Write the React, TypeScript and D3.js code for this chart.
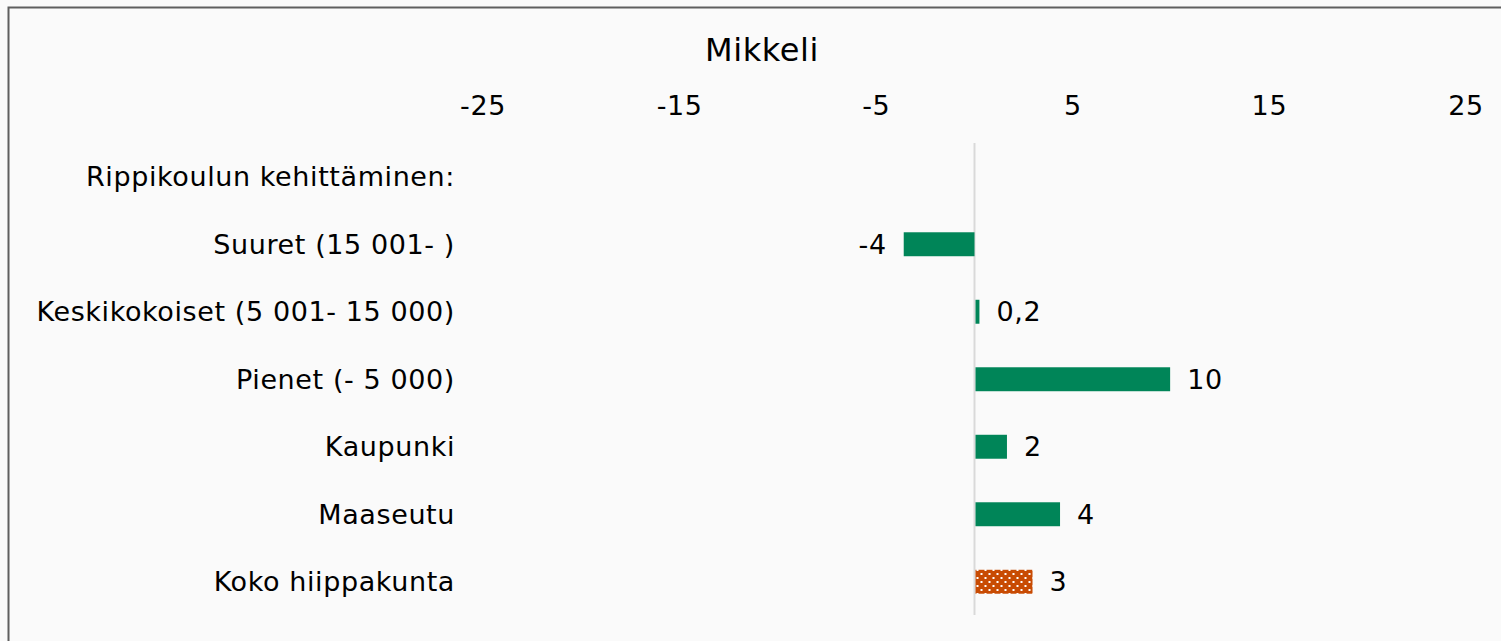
import React, { useEffect, useRef } from "react"
import * as d3 from "d3"

const title = "Mikkeli"
const categories = [
  "Rippikoulun kehittäminen:",
  "Suuret (15 001- )",
  "Keskikokoiset (5 001- 15 000)",
  "Pienet (- 5 000)",
  "Kaupunki",
  "Maaseutu",
  "Koko hiippakunta",
]
// null = header row without a bar
const values = [null, -3.6, 0.2, 9.9, 1.6, 4.3, 2.9]
const valueLabels = ["", "-4", "0,2", "10", "2", "4", "3"]
const tickValues = [-25, -15, -5, 5, 15, 25]

const W = 1501
const H = 641
const FONT = "'DejaVu Sans', Verdana, sans-serif"

export default function App() {
  const ref = useRef<SVGSVGElement>(null)

  useEffect(() => {
    document.body.style.background = "#fafafa"
    const svg = d3.select(ref.current)
    svg.selectAll("*").remove()

    const x = d3.scaleLinear().domain([-25, 25]).range([483, 1466])
    const y = d3.scaleBand<string>()
      .domain(categories)
      .range([143, 615.5])
      .paddingInner(0.645)
      .paddingOuter(0.3225)

    const label = (sel: any, size: number) =>
      sel.style("font-family", FONT)
        .style("font-size", size + "px")
        .style("letter-spacing", "0.6px")
        .attr("fill", "#000")

    // frame
    svg.append("rect")
      .attr("x", 0).attr("y", 0).attr("width", W).attr("height", H)
      .attr("fill", "#fafafa")
    svg.append("rect")
      .attr("x", 8.5).attr("y", 7.5).attr("width", W + 20).attr("height", H + 20)
      .attr("fill", "none").attr("stroke", "#5f5f5f").attr("stroke-width", 2)

    const defs = svg.append("defs")
    const pat = defs.append("pattern")
      .attr("id", "dots")
      .attr("patternUnits", "userSpaceOnUse")
      .attr("width", 8).attr("height", 8)
      .attr("x", x(0) + 1).attr("y", 0)
    pat.append("rect").attr("width", 8).attr("height", 8).attr("fill", "#c84b03")
    pat.append("rect").attr("x", 1).attr("y", 1).attr("width", 2).attr("height", 2).attr("fill", "#fff")
    pat.append("rect").attr("x", 5).attr("y", 5).attr("width", 2).attr("height", 2).attr("fill", "#fff")

    svg.append("text")
      .attr("x", 762).attr("y", 61)
      .attr("text-anchor", "middle")
      .call(label, 32)
      .text(title)

    // top axis labels
    svg.append("g").selectAll("text")
      .data(tickValues)
      .enter()
      .append("text")
      .attr("x", (d) => x(d))
      .attr("y", 115)
      .attr("text-anchor", "middle")
      .call(label, 27)
      .text((d) => String(d))

    // zero line
    svg.append("line")
      .attr("x1", x(0)).attr("x2", x(0))
      .attr("y1", 143).attr("y2", 615)
      .attr("stroke", "#d9d9d9").attr("stroke-width", 2)

    // category labels
    svg.append("g").selectAll("text")
      .data(categories)
      .enter()
      .append("text")
      .attr("x", 455)
      .attr("y", (d) => y(d)! + y.bandwidth() / 2)
      .attr("dy", "0.36em")
      .attr("text-anchor", "end")
      .call(label, 27)
      .text((d) => d)

    const rows = categories
      .map((c, i) => ({ c, v: values[i], label: valueLabels[i], i }))
      .filter((d) => d.v !== null) as { c: string; v: number; label: string; i: number }[]

    svg.append("g").selectAll("rect")
      .data(rows)
      .enter()
      .append("rect")
      .attr("x", (d) => Math.min(x(0), x(d.v)) + (d.v > 0 ? 1 : 0))
      .attr("y", (d) => y(d.c)!)
      .attr("width", (d) => Math.abs(x(d.v) - x(0)))
      .attr("height", y.bandwidth())
      .attr("fill", (d) => (d.i === categories.length - 1 ? "url(#dots)" : "#008558"))

    svg.append("g").selectAll("text")
      .data(rows)
      .enter()
      .append("text")
      .attr("x", (d) => (d.v < 0 ? x(d.v) - 17 : x(d.v) + 18))
      .attr("y", (d) => y(d.c)! + y.bandwidth() / 2)
      .attr("dy", "0.36em")
      .attr("text-anchor", (d) => (d.v < 0 ? "end" : "start"))
      .call(label, 27)
      .text((d) => d.label)
  }, [])

  return (
    <svg
      ref={ref}
      width={W}
      height={H}
      style={{ position: "absolute", left: 0, top: 0, display: "block" }}
    />
  )
}
